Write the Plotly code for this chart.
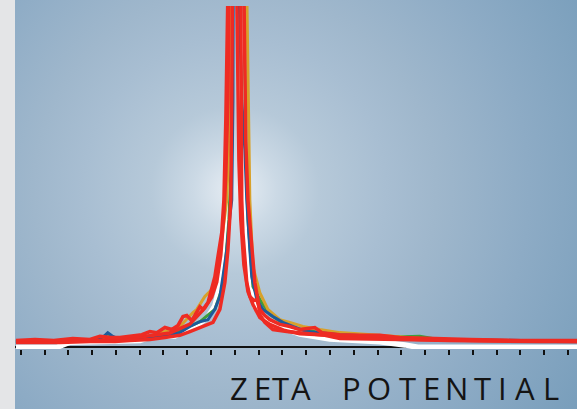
import base64
import plotly.graph_objects as go

# ---- data (zeta potential in mV, relative intensity) ----
red_a_x = [-92.0, -84.0, -76.1, -68.1, -60.9, -56.7, -52.1, -48.3, -45.0, -42.0, -39.1, -35.7, -32.8, -29.4, -26.5,
           -23.9, -21.8, -20.2, -18.1, -14.7, -13.4, -11.3, -9.7, -8.4, -7.1, -5.5, -4.6, -3.8, -2.9, 0.0, 3.8, 4.6,
           5.5, 7.1, 8.4, 9.7, 10.5, 12.6, 16.0, 21.8, 27.3, 32.8, 37.8, 44.1, 58.0, 69.3, 90.3, 111.3, 128.2, 144.1]
red_a_y = [2.0, 2.3, 2.0, 2.6, 2.3, 3.2, 2.9, 2.9, 3.2, 3.5, 3.7, 4.6, 4.3, 5.8, 5.2, 6.4, 9.0, 9.3, 7.8, 11.9,
           11.1, 13.1, 16.9, 20.7, 26.6, 33.6, 43.2, 66.6, 105, 320, 105, 60.2, 43.2, 28.6, 19.0, 14.0, 9.6, 7.3,
           5.2, 4.6, 4.3, 4.0, 3.5, 2.6, 2.3, 2.3, 2.0, 1.7, 1.7, 1.7]

red_b_x = [-92.0, -84.0, -73.5, -60.9, -50.4, -44.1, -35.7, -29.4, -23.1, -18.9, -13.4, -9.2, -6.3, -4.2, -2.9,
           -2.1, -1.7, -1.3, -0.8, 0.8, 2.5, 2.9, 3.4, 5.0, 6.3, 8.0, 9.2, 10.5, 12.6, 14.7, 18.9, 23.1, 27.3, 31.5,
           33.6, 36.6, 44.1, 52.5, 60.9, 69.3, 81.9, 98.7, 119.7, 144.1]
red_b_y = [1.4, 1.4, 1.4, 1.7, 1.7, 2.0, 2.3, 2.9, 3.5, 4.6, 6.1, 7.3, 11.1, 19.0, 28.6, 38.3, 43.2, 72.4, 105,
           320, 105, 43.2, 33.6, 19.0, 14.9, 13.7, 14.0, 11.1, 9.3, 8.1, 6.7, 6.1, 5.2, 5.5, 5.8, 4.3, 3.7, 3.5,
           3.5, 2.9, 2.6, 2.3, 2.0, 2.0]

red_c_x = [-92.0, -73.5, -56.7, -39.9, -27.3, -18.9, -14.7, -12.6, -9.7, -7.6, -5.9, -4.6, -3.8, -2.9, -2.5, -0.8,
           0.8, 1.3, 1.7, 2.5, 3.8, 5.5, 7.6, 10.5, 14.7, 21.0, 27.3, 39.9, 56.7, 77.7, 102.9, 144.1]
red_c_y = [1.6, 1.8, 2.1, 3.0, 4.2, 6.8, 10.0, 11.5, 14.7, 19.1, 27.0, 38.8, 50.5, 72.5, 105, 320, 105, 72.4, 54.9,
           37.4, 24.2, 16.3, 12.5, 8.7, 6.7, 4.9, 4.0, 3.5, 2.9, 2.3, 2.0, 1.7]

orange_x = [-92.0, -73.5, -56.7, -44.1, -35.7, -29.4, -23.1, -17.6, -16.0, -12.6, -9.7, -7.6, -5.5, -3.4, -2.1,
            -1.3, 1.3, 5.0, 5.9, 6.3, 7.6, 10.5, 13.9, 18.9, 23.1, 28.6, 35.7, 44.1, 66.4, 77.7, 102.9, 144.1]
orange_y = [1.7, 1.7, 2.3, 2.6, 3.2, 4.6, 6.1, 10.2, 11.1, 14.9, 16.9, 21.9, 31.5, 43.2, 66.6, 105, 320, 105,
            57.9, 43.2, 23.6, 16.0, 11.1, 8.1, 7.3, 6.1, 5.2, 4.3, 3.2, 2.6, 2.0, 1.7]

green_x = [-92.0, -73.5, -56.7, -53.4, -50.0, -35.7, -23.1, -14.7, -8.4, -5.5, -3.8, -2.5, -1.3, -0.8, 0.8, 3.8,
           4.6, 5.5, 7.6, 10.5, 14.7, 21.0, 27.3, 39.9, 60.9, 77.7, 86.1, 111.3, 144.1]
green_y = [1.7, 1.7, 2.3, 4.0, 2.3, 2.9, 4.9, 7.5, 11.1, 16.9, 25.7, 37.4, 57.9, 105, 320, 105, 57.9, 37.4, 17.8,
           14.0, 9.6, 6.7, 5.2, 4.0, 2.9, 3.2, 2.2, 2.0, 1.7]

blue_x = [-92.0, -81.9, -69.3, -58.8, -55.0, -53.4, -51.3, -48.3, -39.9, -31.5, -23.1, -18.9, -14.7, -11.3, -8.4,
          -6.3, -5.0, -3.4, -2.1, -1.3, -0.8, -0.4, 0.4, 1.7, 2.9, 4.2, 5.0, 6.3, 7.1, 9.2, 11.8, 16.0, 20.2, 24.4,
          30.3, 35.7, 44.1, 60.9, 69.3, 90.3, 111.3, 144.1]
blue_y = [1.7, 1.7, 2.0, 2.0, 3.2, 4.3, 3.2, 2.3, 2.6, 3.2, 4.3, 6.1, 7.5, 8.1, 11.1, 14.9, 20.7, 28.6, 38.3, 43.2,
          72.4, 105, 320, 105, 72.4, 57.9, 43.2, 28.6, 20.7, 14.0, 11.1, 9.0, 7.3, 6.1, 4.6, 4.3, 3.7, 3.2, 2.6,
          2.3, 2.0, 1.7]

white_x = [-92.0, -74.8, -69.3, -39.9, -35.7, -31.5, -25.2, -21.0, -17.6, -14.7, -11.3, -8.4, -6.7, -5.5, -4.2,
           -2.9, -1.7, 0.0, 1.3, 2.5, 2.9, 4.2, 6.3, 8.4, 11.3, 14.7, 18.9, 23.1, 27.3, 39.9, 60.9, 71.4, 76.9, 144.1]
white_y = [0, 0, 1.5, 2.0, 3.0, 3.3, 3.3, 5.1, 6.2, 7.1, 8.9, 12.1, 16.8, 24.1, 32.9, 43.2, 57.8, 105, 320, 105,
           57.8, 34.4, 18.3, 12.1, 9.2, 7.1, 5.9, 5.1, 3.9, 2.4, 1.6, 0.7, 0, 0]

title_letters = list("ZETAPOTENTIAL")

# ---- styling ----
W, H = 577, 409
ML, MR, MT, MB = 15, 0, 6, 60
plot_h = H - MT - MB
plot_w = W - ML - MR

series = [
    ("white", white_x, white_y, "#ffffff", 5.5),
    ("green", green_x, green_y, "#3f9b3a", 3),
    ("orange", orange_x, orange_y, "#d8a12a", 3),
    ("blue", blue_x, blue_y, "#1d5b9b", 3),
    ("red C", red_c_x, red_c_y, "#ee2b23", 3.5),
    ("red B", red_b_x, red_b_y, "#ee2b23", 3.5),
    ("red A", red_a_x, red_a_y, "#ee2b23", 3.5),
]

fig = go.Figure()
for name, xs, ys, col, lw in series:
    fig.add_trace(go.Scatter(x=xs, y=ys, mode="lines", name=name,
                             line=dict(color=col, width=lw), hoverinfo="skip"))

svg = f"""<svg xmlns='http://www.w3.org/2000/svg' width='{plot_w}' height='{H}' viewBox='0 0 {plot_w} {H}' preserveAspectRatio='none'>
<defs><radialGradient id='g' cx='220' cy='190' r='420' gradientUnits='userSpaceOnUse'>
<stop offset='0' stop-color='#e8eef4'/>
<stop offset='0.1' stop-color='#cbd9e5'/>
<stop offset='0.2' stop-color='#b6c9d9'/>
<stop offset='0.36' stop-color='#a8bed2'/>
<stop offset='0.48' stop-color='#9fb7cc'/>
<stop offset='0.7' stop-color='#8dabc5'/>
<stop offset='0.95' stop-color='#7a9fbc'/>
<stop offset='1' stop-color='#779dba'/>
</radialGradient></defs>
<rect x='0' y='0' width='{plot_w}' height='{H}' fill='url(#g)'/></svg>"""
src = "data:image/svg+xml;base64," + base64.b64encode(svg.encode()).decode()

letter_px = [239, 262, 280.5, 301, 351.5, 379, 407.5, 431.5, 456, 482.5, 502.5, 524.5, 551]
annotations = []
for ch, px in zip(title_letters, letter_px):
    annotations.append(dict(text=ch, x=(px - ML) / plot_w, y=(H - MB - 388.5) / plot_h,
                            xref="paper", yref="paper", xanchor="center", yanchor="middle",
                            showarrow=False, font=dict(family="Open Sans", size=31, color="#141414")))

fig.update_layout(
    width=W, height=H,
    margin=dict(l=ML, r=MR, t=MT, b=MB, pad=0),
    paper_bgcolor="#e4e5e7",
    plot_bgcolor="rgba(0,0,0,0)",
    showlegend=False,
    images=[dict(source=src, xref="paper", yref="paper", x=0, y=1 + MT / plot_h,
                 sizex=1, sizey=H / plot_h, xanchor="left", yanchor="top",
                 sizing="stretch", layer="below")],
    annotations=annotations,
    xaxis=dict(range=[-92.4, 143.8], tickmode="linear", tick0=0, dtick=10,
               ticks="outside", ticklen=5, tickwidth=2, tickcolor="#111111",
               showticklabels=False, showgrid=False, zeroline=False, showline=False),
    yaxis=dict(range=[-0.5, 100], showticklabels=False, ticks="", showgrid=False,
               showline=False, zeroline=True, zerolinecolor="#111111", zerolinewidth=2),
)

fig.write_html("out.html", config={"displayModeBar": False},
               post_script="document.body.style.margin='0';document.body.style.overflow='hidden';")
